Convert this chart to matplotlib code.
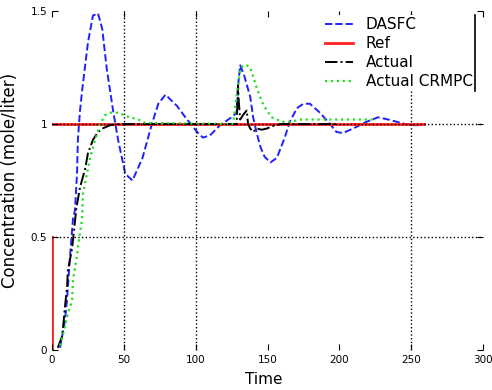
import numpy as np
import matplotlib
matplotlib.use("Agg")
import matplotlib.pyplot as plt
from matplotlib.lines import Line2D

# DASFC response
t_dasfc = [5.6, 9, 10.4, 12.5, 14.6, 16, 17.4, 18, 19.5, 21, 25, 28.5, 32, 35, 38, 42.5, 46, 51, 56,
           63, 69.5, 74, 79, 87, 94, 101, 105, 110, 117, 125, 128.5, 129.5, 131, 134, 138, 140, 142.5,
           145, 148, 152, 156.5, 162, 165.5, 170.5, 175, 179.5, 186.5, 193.5, 198, 202.5, 209.5, 219,
           227, 234, 240, 249, 257.5]
y_dasfc = [0.01, 0.13, 0.22, 0.41, 0.58, 0.62, 0.78, 0.93, 1.06, 1.15, 1.36, 1.48, 1.49, 1.42, 1.25,
           1.06, 0.93, 0.78, 0.75, 0.85, 1.0, 1.09, 1.13, 1.08, 1.02, 0.965, 0.94, 0.95, 0.995, 1.03,
           1.05, 1.17, 1.26, 1.21, 1.12, 1.03, 0.96, 0.9, 0.855, 0.83, 0.85, 0.94, 1.01, 1.07, 1.09,
           1.09, 1.05, 1.0, 0.965, 0.96, 0.98, 1.01, 1.03, 1.02, 1.01, 0.995, 0.995]

# reference signal
t_ref = [0, 0, np.nan, 0, 259]
y_ref = [0, 0.5, np.nan, 1, 1]

# Actual
t_act = [4, 7, 8, 9, 10.5, 11, 14, 17, 19.5, 23, 25, 28.5, 32, 35, 40.5, 47, 63, 127, 128.5, 129.5,
         130, 131, 133, 135.5, 136.5, 138, 140, 142.5, 146, 149.5, 153, 156.5, 159, 198]
y_act = [0.01, 0.06, 0.12, 0.19, 0.28, 0.35, 0.45, 0.63, 0.72, 0.8, 0.87, 0.93, 0.965, 0.98, 0.995,
         1.0, 1.0, 1.0, 1.0, 1.17, 1.1, 1.02, 1.04, 1.06, 1.0, 0.98, 0.965, 0.98, 0.975, 0.98, 0.99,
         0.995, 1.0, 1.0]

# Actual CRMPC
t_crmpc = [5.6, 9, 11, 14, 14.6, 17, 19, 21, 21.5, 26.5, 30, 33.5, 37, 40.5, 46, 54, 60, 65, 126,
           129, 131, 133, 135.5, 138, 140, 142.5, 146, 149.5, 153, 156.5, 160, 166, 173, 225]
y_crmpc = [0.02, 0.1, 0.16, 0.22, 0.31, 0.4, 0.5, 0.58, 0.69, 0.85, 0.93, 1.0, 1.04, 1.05, 1.05,
           1.03, 1.02, 1.005, 1.0, 1.15, 1.24, 1.26, 1.26, 1.25, 1.21, 1.16, 1.1, 1.06, 1.03, 1.02,
           1.01, 1.01, 1.02, 1.02]

x_ticks = [0, 50, 100, 150, 200, 250, 300]
y_ticks = [0, 0.5, 1, 1.5]

fig = plt.figure(figsize=(4.92, 3.9), dpi=100)
ax = fig.add_axes([0.1057, 0.1026, 0.876, 0.869])

ax.plot(t_dasfc, y_dasfc, color="#2020ff", ls="--", lw=1.4, label="DASFC")
ax.plot(t_ref, y_ref, color="#ff2020", ls="-", lw=2.0, label="Ref")
ax.plot(t_act, y_act, color="black", ls="-.", lw=1.4, label="Actual")
ax.plot(t_crmpc, y_crmpc, color="#20e020", ls=":", lw=1.6, label="Actual CRMPC")

ax.set_xlim(0, 300)
ax.set_ylim(0, 1.5)
ax.set_xticks(x_ticks)
ax.set_yticks(y_ticks)
ax.set_yticklabels(["0", "0.5", "1", "1.5"])
ax.tick_params(direction="in", length=4, labelsize=7.5, top=True, right=True,
               labeltop=False, labelright=False)
for s in ax.spines.values():
    s.set_visible(False)

ax.grid(True, color="black", ls=":", lw=1)
xg = ax.xaxis.get_gridlines()
for i in [0, 3, 4, 6]:
    xg[i].set_visible(False)
yg = ax.yaxis.get_gridlines()
for i in [0, 3]:
    yg[i].set_visible(False)
ax.set_axisbelow(False)

ax.set_xlabel("Time", fontsize=11)
ax.xaxis.set_label_coords(0.492, -0.065)
ax.set_ylabel("Concentration (mole/liter)", fontsize=12)
ax.yaxis.set_label_coords(-0.097, 0.5)
ax.yaxis.label.set_va("center")

leg = ax.legend(loc="upper right", bbox_to_anchor=(0.981, 0.988), borderaxespad=0,
                fontsize=11, handlelength=1.85, handletextpad=0.8, labelspacing=0.25,
                borderpad=0.15, frameon=True, fancybox=False, edgecolor="none",
                facecolor="white", framealpha=1)

fig.canvas.draw()
bb = leg.get_window_extent().transformed(fig.transFigure.inverted())
fig.add_artist(Line2D([bb.x1, bb.x1], [bb.y0, bb.y1], color="black", lw=1.2))

fig.savefig("out.png", dpi=100)
